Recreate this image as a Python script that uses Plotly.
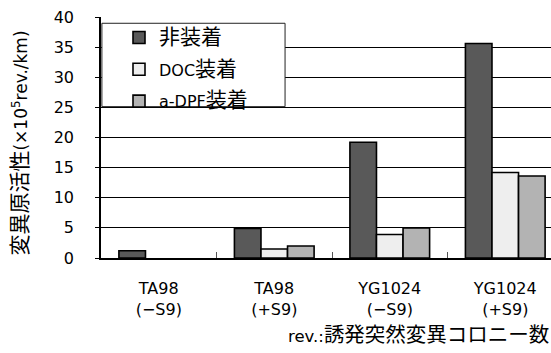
import plotly.graph_objects as go

# Categories (strain and S9 condition)
categories = ["TA98<br>(−S9)", "TA98<br>(+S9)", "YG1024<br>(−S9)", "YG1024<br>(+S9)"]

# Mutagenic activity (×10^5 rev./km); None = not shown
series_names = ["非装着", "DOC装着", "a-DPF装着"]
no_device = [1.2, 4.9, 19.2, 35.6]
doc = [None, 1.5, 3.9, 14.2]
adpf = [None, 2.0, 5.0, 13.6]

colors = ["#595959", "#eeeeee", "#b3b3b3"]
FONT = "DejaVu Sans, Noto Sans CJK JP, sans-serif"


def cjk(text, size=20):
    """Wrap CJK text in a larger span so it sits well next to Latin glyphs."""
    return f"<span style='font-size:{size}px'>{text}</span>"


legend_labels = [cjk("非装着", 21), "DOC" + cjk("装着", 21), "a-DPF" + cjk("装着", 21)]

fig = go.Figure()
for i, vals in enumerate([no_device, doc, adpf]):
    fig.add_trace(go.Bar(
        x=categories, y=vals, name=legend_labels[i],
        marker=dict(color=colors[i], line=dict(color="#000000", width=1.6)),
        legendgroup=f"g{i}",
    ))

fig.update_layout(
    width=551, height=353,
    margin=dict(l=101, r=0, t=17, b=95),
    paper_bgcolor="white", plot_bgcolor="white",
    barmode="group", bargap=0.31, bargroupgap=0,
    font=dict(family=FONT, size=16, color="#000000"),
    showlegend=True,
    legend=dict(
        x=0.04, y=0.985, xanchor="left", yanchor="top",
        bgcolor="rgba(0,0,0,0)", borderwidth=0,
        font=dict(size=16), itemwidth=30,
        traceorder="grouped", tracegroupgap=8,
    ),
    shapes=[dict(
        type="rect", xref="paper", yref="paper",
        x0=0.002, x1=0.409, y0=0.628, y1=0.974,
        fillcolor="white", line=dict(color="#222222", width=1),
        layer="above",
    )],
    annotations=[
        dict(
            text="rev.:" + cjk("誘発突然変異コロニー数", 20.5),
            xref="paper", yref="paper",
            x=1.0, y=-0.32, xanchor="right", yanchor="middle",
            showarrow=False, font=dict(size=16.5),
        ),
        # y-axis title
        dict(
            text=cjk("変異原活性", 21) + "(×10<sup>5</sup>rev./km)",
            xref="paper", yref="paper",
            x=-0.18, y=0.475, xanchor="center", yanchor="middle",
            textangle=-90, showarrow=False, font=dict(size=17),
        ),
    ],
)

fig.update_xaxes(
    type="category", range=[-0.5, 3.396],
    showline=True, linecolor="#000000", linewidth=1.5,
    ticks="inside", tickson="boundaries", ticklen=6, tickcolor="#555555",
    tickfont=dict(size=16), ticklabelstandoff=15, showgrid=False,
)
fig.update_yaxes(
    range=[0, 40], dtick=5,
    showline=True, linecolor="#000000", linewidth=1.5,
    showgrid=True, gridcolor="#000000", gridwidth=1,
    ticks="outside", ticklen=4, tickcolor="#000000",
    ticklabelstandoff=18,
    tickfont=dict(size=16),
    zeroline=False,
)

fig.write_html("out.html")
